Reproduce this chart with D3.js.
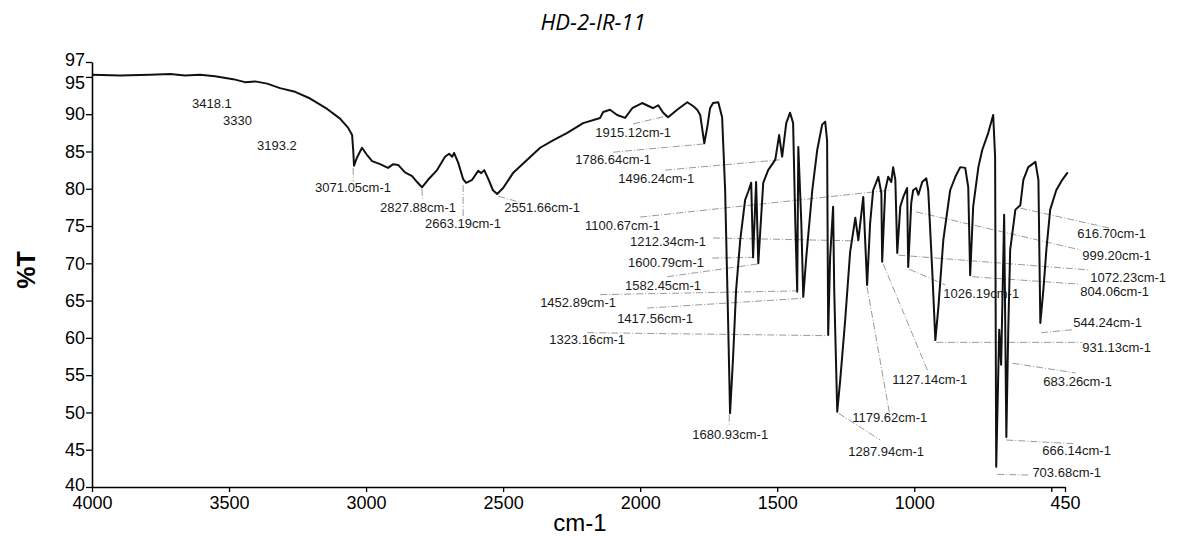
<!DOCTYPE html>
<html>
<head>
<meta charset="utf-8">
<script src="https://cdn.jsdelivr.net/npm/d3@7"></script>
<style>
  html, body { margin: 0; padding: 0; background: #fff; }
  svg { display: block; }
</style>
</head>
<body>
<svg id="chart" width="1186" height="539"></svg>
<script>
// ---------- DATA ----------
const chartTitle = "HD-2-IR-11";
const xAxisTitle = "cm-1";
const yAxisTitle = "%T";

const xTickValues = [4000, 3500, 3000, 2500, 2000, 1500, 1000, 500, 450];
const xTickLabels = ["4000", "3500", "3000", "2500", "2000", "1500", "1000", "", "450"];
const yTickValues = [40, 45, 50, 55, 60, 65, 70, 75, 80, 85, 90, 95, 97];
const yTickLabels = ["40", "45", "50", "55", "60", "65", "70", "75", "80", "85", "90", "95", "97"];

// Spectrum (wavenumber, %T)
const spectrumWn = [4000, 3898, 3788, 3715, 3661, 3606, 3551, 3485, 3442, 3405, 3361, 3314, 3259, 3204, 3142, 3095, 3066, 3051, 3047, 3044,
  3033, 3015, 2996, 2978, 2949, 2920, 2901, 2883, 2858, 2832, 2814, 2796, 2774, 2741, 2712, 2697, 2686, 2679, 2664, 2646,
  2635, 2613, 2591, 2580, 2569, 2555, 2537, 2522, 2500, 2464, 2412, 2365, 2318, 2266, 2208, 2146, 2135, 2110, 2084, 2055,
  2029, 1993, 1964, 1953, 1934, 1916, 1898, 1865, 1828, 1807, 1792, 1781, 1766, 1755, 1745, 1734, 1715, 1701, 1690, 1679,
  1672, 1661, 1650, 1635, 1617, 1606, 1595, 1588, 1577, 1569, 1551, 1533, 1507, 1493, 1482, 1467, 1453, 1442, 1434, 1427,
  1423, 1412, 1405, 1394, 1372, 1354, 1336, 1325, 1318, 1314, 1307, 1296, 1292, 1281, 1270, 1252, 1234, 1215, 1204, 1186,
  1172, 1161, 1150, 1131, 1120, 1117, 1106, 1095, 1084, 1077, 1069, 1062, 1051, 1040, 1026, 1022, 1011, 1004, 993, 985,
  971, 956, 949, 934, 923, 912, 894, 869, 850, 832, 814, 803, 796, 785, 766, 752, 730, 712, 705, 701,
  690, 683, 672, 664, 657, 650, 631, 613, 602, 584, 558, 547, 540, 529, 518, 504, 482, 460, 440];
const spectrumT = [95.3, 95.2, 95.3, 95.4, 95.2, 95.3, 95.1, 94.7, 94.3, 94.4, 94.1, 93.5, 93.0, 92.1, 90.7, 89.4, 88.2, 87.2, 85.2, 83.1,
  84.2, 85.5, 84.5, 83.7, 83.3, 82.8, 83.3, 83.2, 82.2, 81.7, 80.9, 80.2, 81.2, 82.5, 84.3, 84.7, 84.3, 84.8, 83.5, 81.3,
  80.8, 81.2, 82.4, 82.1, 82.5, 81.4, 79.8, 79.3, 80.1, 82.1, 83.9, 85.5, 86.5, 87.5, 88.8, 89.5, 90.3, 90.6, 89.9, 89.5,
  90.8, 91.5, 91.0, 90.8, 91.2, 90.2, 89.6, 90.6, 91.6, 91.1, 90.6, 89.9, 86.1, 88.3, 90.8, 91.5, 91.6, 89.6, 79.8, 62.0,
  49.9, 57.4, 66.4, 73.1, 78.5, 79.6, 80.8, 70.8, 80.9, 70.0, 80.8, 82.5, 83.9, 87.2, 84.3, 88.8, 90.2, 88.8, 75.4, 66.2,
  85.6, 75.4, 65.5, 70.8, 79.8, 85.2, 88.6, 89.0, 86.5, 60.4, 70.8, 77.6, 66.4, 50.1, 54.4, 62.4, 71.5, 76.1, 73.1, 78.9,
  67.1, 75.4, 79.8, 81.6, 79.4, 70.2, 79.8, 81.6, 80.9, 82.9, 81.2, 71.4, 77.6, 78.9, 80.1, 69.5, 78.1, 79.8, 80.1, 79.2,
  80.9, 81.4, 79.8, 68.7, 59.7, 64.1, 73.1, 79.8, 81.6, 82.9, 82.8, 80.2, 68.4, 77.6, 82.9, 85.2, 87.5, 89.9, 84.3, 42.7,
  61.1, 56.4, 76.5, 46.7, 61.1, 71.8, 77.2, 77.8, 81.2, 82.9, 83.6, 81.2, 62.0, 66.4, 71.8, 77.2, 79.8, 81.2, 82.2];

// Peak annotations
const peakLabels = ["3418.1", "3330", "3193.2", "3071.05cm-1", "2827.88cm-1", "2663.19cm-1", "2551.66cm-1",
  "1915.12cm-1", "1786.64cm-1", "1496.24cm-1", "1100.67cm-1", "1212.34cm-1", "1600.79cm-1", "1582.45cm-1",
  "1452.89cm-1", "1417.56cm-1", "1323.16cm-1", "1680.93cm-1", "1179.62cm-1", "1287.94cm-1", "1127.14cm-1",
  "1026.19cm-1", "616.70cm-1", "999.20cm-1", "1072.23cm-1", "804.06cm-1", "544.24cm-1", "931.13cm-1",
  "683.26cm-1", "666.14cm-1", "703.68cm-1"];
// text anchor (left, baseline) in data units
const labelWn = [3635, 3522, 3398, 3186, 2949, 2785, 2496,
  2164, 2237, 2080, 2201, 2037, 2044, 2055,
  2365, 2084, 2332, 1810, 1226, 1241, 1080,
  894, 405, 387, 358, 394, 420, 387,
  529, 533, 569];
const labelT = [90.8, 88.6, 85.2, 79.6, 76.9, 74.7, 76.9,
  86.9, 83.3, 80.8, 74.5, 72.3, 69.5, 66.4,
  64.1, 62.0, 59.2, 46.4, 48.7, 44.2, 53.8,
  65.3, 73.4, 70.4, 67.5, 65.6, 61.5, 58.1,
  53.5, 44.3, 41.3];
// leader lines: from peak point to near the label (null = no visible leader)
const leaderFromWn = [null, null, null, 3047, 2796, 2646, 2518,
  2026, 2099, 1909, 2000, 1734, 1737, 1901,
  2146, 1974, 2193, 1675, 1172, 1277, 1113,
  1018, 613, 993, 1058, 788, 537, 920,
  642, 664, 697];
const leaderFromT = [null, null, null, 82.8, 80.0, 80.5, 79.0,
  88.7, 84.9, 82.5, 76.2, 73.4, 70.7, 68.2,
  65.8, 64.0, 60.7, 49.7, 66.8, 49.9, 69.9,
  69.2, 77.4, 76.9, 71.1, 68.2, 60.7, 59.4,
  56.6, 46.3, 41.7];
const leaderToWn = [null, null, null, 3047, 2794, 2646, 2431,
  1898, 1770, 1485, 1091, 1204, 1591, 1573,
  1431, 1409, 1321, 1675, 1088, 1124, 949,
  887, 285, 394, 358, 394, 420, 387,
  412, 412, 577];
const leaderToT = [null, null, null, 81.0, 78.4, 76.3, 78.1,
  89.8, 86.0, 83.9, 79.8, 73.0, 70.8, 69.9,
  66.3, 65.3, 60.3, 48.2, 49.4, 46.3, 55.4,
  67.1, 74.7, 71.8, 69.1, 67.2, 61.1, 59.4,
  55.3, 45.8, 41.6];

// ---------- DRAW ----------
const svg = d3.select("#chart");
const x = d3.scaleLinear().domain([4000, 450]).range([92, 1065]);
const y = d3.scaleLinear().domain([40, 97]).range([487, 62]);

// title
svg.append("text")
  .attr("x", 593).attr("y", 30)
  .attr("text-anchor", "middle")
  .attr("font-family", "'Open Sans', 'Noto Sans', sans-serif")
  .attr("font-style", "italic")
  .attr("font-size", 22)
  .attr("fill", "#000")
  .text(chartTitle);

// leaders
const leaders = svg.append("g").attr("class", "leaders");
peakLabels.forEach((lab, i) => {
  if (leaderFromWn[i] === null) return;
  leaders.append("line")
    .attr("x1", x(leaderFromWn[i])).attr("y1", y(leaderFromT[i]))
    .attr("x2", x(leaderToWn[i])).attr("y2", y(leaderToT[i]))
    .attr("stroke", "#9a9a9a")
    .attr("stroke-width", 1)
    .attr("stroke-dasharray", "7,2,1,2");
});

// spectrum
const pts = spectrumWn.map((w, i) => [w, spectrumT[i]]);
svg.append("path")
  .datum(pts)
  .attr("fill", "none")
  .attr("stroke", "#111")
  .attr("stroke-width", 2)
  .attr("stroke-linejoin", "round")
  .attr("d", d3.line().x(d => x(d[0])).y(d => y(d[1])));

// labels
const labG = svg.append("g").attr("class", "peak-labels");
peakLabels.forEach((lab, i) => {
  labG.append("text")
    .attr("x", x(labelWn[i])).attr("y", y(labelT[i]))
    .attr("font-family", "'Liberation Sans', Arial, sans-serif")
    .attr("font-size", 13)
    .attr("fill", "#1a1a1a")
    .text(lab);
});

// axes
const xAxis = d3.axisBottom(x)
  .tickValues(xTickValues)
  .tickFormat((d, i) => xTickLabels[i])
  .tickSize(5).tickPadding(4).tickSizeOuter(0);
const gx = svg.append("g").attr("transform", "translate(0,487)").call(xAxis);

const yAxis = d3.axisLeft(y)
  .tickValues(yTickValues)
  .tickFormat((d, i) => yTickLabels[i])
  .tickSize(6).tickPadding(1).tickSizeOuter(0);
const gy = svg.append("g").attr("transform", "translate(92,0)").call(yAxis);

[gx, gy].forEach(g => {
  g.select(".domain").attr("stroke", "#000").attr("stroke-width", 1.6);
  g.selectAll(".tick line").attr("stroke", "#000").attr("stroke-width", 1.3);
  g.selectAll(".tick text")
    .attr("font-family", "'Liberation Sans', Arial, sans-serif")
    .attr("font-size", 18)
    .attr("fill", "#000");
});
// crowded top labels: nudge apart as in the reference
gy.selectAll(".tick text")
  .filter(d => d === 95).attr("dy", "0.62em");
gy.selectAll(".tick text")
  .filter(d => d === 97).attr("dy", "0.2em");
gy.selectAll(".tick text")
  .filter(d => d === 40).attr("dy", "0.2em");

// axis titles
svg.append("text")
  .attr("x", 580).attr("y", 531)
  .attr("text-anchor", "middle")
  .attr("font-family", "'Liberation Sans', Arial, sans-serif")
  .attr("font-size", 24)
  .attr("fill", "#000")
  .text(xAxisTitle);

svg.append("text")
  .attr("transform", "translate(35,270) rotate(-90)")
  .attr("text-anchor", "middle")
  .attr("font-family", "'Liberation Sans', Arial, sans-serif")
  .attr("font-size", 25)
  .attr("font-weight", "bold")
  .attr("fill", "#000")
  .text(yAxisTitle);
</script>
</body>
</html>
